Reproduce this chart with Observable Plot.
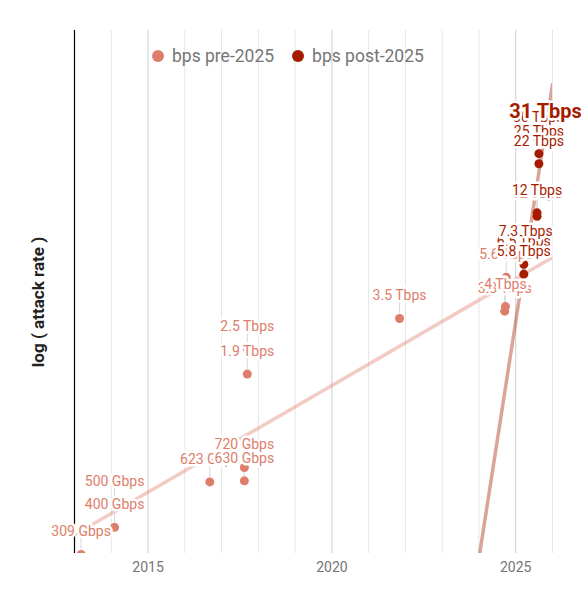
<!DOCTYPE html>
<html>
<head>
<meta charset="utf-8">
<script src="https://cdn.jsdelivr.net/npm/d3@7"></script>
<script src="https://cdn.jsdelivr.net/npm/@observablehq/plot@0.6"></script>
<style>
  html, body { margin: 0; padding: 0; background: #fff; }
  #chart { position: relative; width: 581px; height: 604px; font-family: Roboto, sans-serif; }
  #legend { position: absolute; left: 152px; top: 45px; height: 21px; display: flex; align-items: center;
            font: 17.5px Roboto, sans-serif; color: #757575; white-space: nowrap; }
  #legend .sw { display: inline-block; width: 12px; height: 12px; border-radius: 50%; margin-right: 8px; }
  #legend .item { display: flex; align-items: center; }
  #legend .item + .item { margin-left: 18px; }
</style>
</head>
<body>
<div id="chart"></div>
<script>
// ---- data (dates as decimal years, attack rate in Gbps) ----
const preDates  = [2013.18, 2014.09, 2014.09, 2016.68, 2017.62, 2017.62, 2017.70, 2017.70, 2021.84, 2024.70, 2024.72, 2024.74];
const preGbps   = [309, 400, 500, 623, 630, 720, 1900, 2500, 3500, 3800, 4000, 5600];
const preLabels = ["309 Gbps", "400 Gbps", "500 Gbps", "623 Gbps", "630 Gbps", "720 Gbps",
                   "1.9 Tbps", "2.5 Tbps", "3.5 Tbps", "3.8 Tbps", "4 Tbps", "5.6 Tbps"];

const postDates  = [2025.22, 2025.27, 2025.22, 2025.58, 2025.58, 2025.61, 2025.63, 2025.63, 2025.81];
const postGbps   = [6500, 7300, 5800, 11500, 12000, 29700, 25000, 22000, 31400];
const postLabels = ["6.5 Tbps", "7.3 Tbps", "5.8 Tbps", "12 Tbps", "12 Tbps", "30 Tbps", "25 Tbps", "22 Tbps", "31 Tbps"];

const seriesNames = ["bps pre-2025", "bps post-2025"];
const xTickYears = [2015, 2020, 2025];

// ---- styling ----
const PRE = "#dd7e6b", POST = "#a61c00";

// plotted value: log(attack rate) with rate in Mbps, on a log axis
const logRate = g => Math.log10(g * 1000);

const pre  = preDates.map((d, i) => ({date: d, gbps: preGbps[i], label: preLabels[i]}));
const post = postDates.map((d, i) => ({date: d, gbps: postGbps[i], label: postLabels[i]}));

const xDomain = [2013, 2026];
const yDomain = [5.494, 8.108];

// straight (in screen space) least-squares trend of log(log rate) vs year
function trend(rows) {
  const xs = rows.map(d => d.date), us = rows.map(d => Math.log10(logRate(d.gbps)));
  const mx = d3.mean(xs), mu = d3.mean(us);
  const b = d3.sum(xs, (x, i) => (x - mx) * (us[i] - mu)) / d3.sum(xs, x => (x - mx) ** 2);
  const a = mu - b * mx;
  return xDomain.map(x => ({date: x, L: Math.pow(10, a + b * x)}));
}

const maxPost = d3.max(post, d => d.gbps);
const leader = {draw(ctx) { ctx.moveTo(0, -5); ctx.lineTo(0, -17); }};
const gridYears = d3.range(2014, 2027);

const labelOpts = (fill) => ({
  x: "date", y: d => logRate(d.gbps), text: "label", dy: -18, lineAnchor: "bottom",
  fontSize: 14, fill, stroke: "white", strokeWidth: 5, strokeLinejoin: "round", paintOrder: "stroke"
});

const chart = Plot.plot({
  width: 581, height: 604,
  marginLeft: 74, marginRight: 29, marginTop: 30, marginBottom: 51,
  style: {fontFamily: "Roboto, sans-serif", background: "white", overflow: "visible"},
  x: {domain: xDomain},
  y: {type: "log", domain: yDomain, axis: null},
  marks: [
    Plot.ruleX(gridYears.filter(y => y % 5 !== 0), {stroke: "#e6e6e6", strokeWidth: 1}),
    Plot.ruleX(gridYears.filter(y => y % 5 === 0), {stroke: "#cccccc", strokeWidth: 1}),
    Plot.ruleX([xDomain[0]], {stroke: "#000", strokeWidth: 1.2}),
    Plot.axisX({ticks: xTickYears, tickFormat: "d", tickSize: 0, tickPadding: 9, fontSize: 14, color: "#757575", label: null}),
    Plot.text(["log ( attack rate )"], {frameAnchor: "left", textAnchor: "middle", rotate: -90, dx: -36, dy: 10,
      fontSize: 17, fontWeight: "bold", fill: "#222"}),
    Plot.line(trend(pre),  {x: "date", y: "L", stroke: PRE,  strokeOpacity: 0.4, strokeWidth: 3.5, clip: true}),
    Plot.line(trend(post), {x: "date", y: "L", stroke: POST, strokeOpacity: 0.4, strokeWidth: 3.5, clip: true}),
    Plot.dot(pre.concat(post), {x: "date", y: d => logRate(d.gbps), symbol: leader, r: 4,
      stroke: "#d8d8d8", strokeWidth: 1, fill: "none"}),
    Plot.dot(pre,  {x: "date", y: d => logRate(d.gbps), r: 4.5, fill: PRE, clip: true}),
    Plot.dot(post, {x: "date", y: d => logRate(d.gbps), r: 4.5, fill: POST, clip: true}),
    Plot.text(pre, labelOpts(PRE)),
    Plot.text(post.filter(d => d.gbps !== maxPost), labelOpts(POST)),
    Plot.text(post.filter(d => d.gbps === maxPost), {...labelOpts(POST), fontSize: 20, fontWeight: "bold"})
  ]
});

const root = document.getElementById("chart");
root.appendChild(chart);

const legend = document.createElement("div");
legend.id = "legend";
[[seriesNames[0], PRE], [seriesNames[1], POST]].forEach(([name, color]) => {
  const item = document.createElement("div");
  item.className = "item";
  const sw = document.createElement("span");
  sw.className = "sw";
  sw.style.background = color;
  const t = document.createElement("span");
  t.textContent = name;
  item.append(sw, t);
  legend.appendChild(item);
});
root.appendChild(legend);
</script>
</body>
</html>
